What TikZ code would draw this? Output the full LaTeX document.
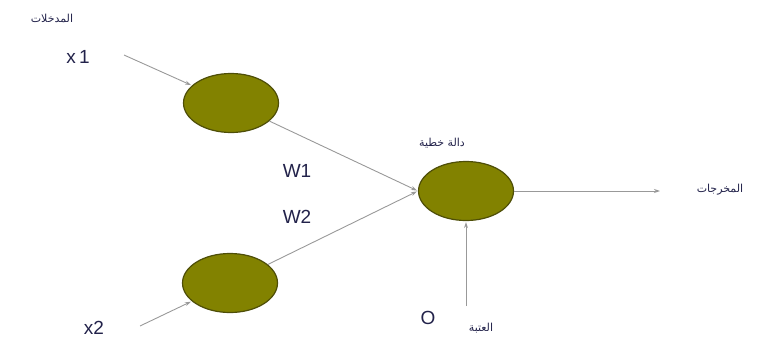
\documentclass[tikz,border=0pt]{standalone}
\usepackage{fontspec}
\setmainfont{Liberation Sans}
\newfontfamily\arabicfont[Script=Arabic]{DejaVu Sans}
\TeXXeTstate=1
\usetikzlibrary{shapes.geometric,arrows.meta}
\definecolor{olivefill}{HTML}{828200}
\definecolor{olivedraw}{HTML}{4E4E08}
\definecolor{labelblue}{HTML}{22224A}
\tikzset{
	neuron/.style = {ellipse, draw = olivedraw, line width = 1.2pt, fill = olivefill, minimum width = 95pt, minimum height = 59pt, inner sep = 0pt},
	link/.style = {draw = gray!80, line width = 0.9pt, -{Stealth[length = 6pt, width = 4pt]}},
	arlabel/.style = {text = labelblue, font = \arabicfont\fontsize{11}{13}\selectfont},
	lalabel/.style = {text = labelblue, font = \fontsize{19}{22}\selectfont}
}
\begin{document}
\begin{tikzpicture}[x=1pt,y=-1pt,shorten >=1pt]
	\useasboundingbox (0,0) rectangle (767,345);
	\node (N1) at (231, 103)	[neuron]	{};
	\node (N2) at (230, 283)	[neuron]	{};
	\node (N3) at (466, 191)	[neuron]	{};
	\coordinate (X1) at (124, 55);
	\coordinate (X2) at (140, 326);
	\coordinate (Y) at (661, 191);
	\coordinate (T) at (466, 306);
	\node (Lin) at (52, 18)	[arlabel]	{\beginR المدخلات\endR};
	\node (Lx1) at (78, 57)	[lalabel]	{x\,1};
	\node (Lx2) at (94, 328)	[lalabel]	{x2};
	\node (Lw1) at (297, 171)	[lalabel]	{W1};
	\node (Lw2) at (297, 217)	[lalabel]	{W2};
	\node (Lf) at (442, 143)	[arlabel]	{\beginR دالة خطية\endR};
	\node (Lout) at (720, 190)	[arlabel]	{\beginR المخرجات\endR};
	\node (Lt) at (428, 318)	[lalabel]	{O};
	\node (Lth) at (481, 328)	[arlabel]	{\beginR العتبة\endR};
	\draw[link] (X1) -- (N1);
	\draw[link] (X2) -- (N2);
	\draw[link] (N1) -- (N3.west);
	\draw[link] (N2) -- (N3.west);
	\draw[link] (N3.east) -- (Y);
	\draw[link] (T) -- (N3.south);
\end{tikzpicture}
\end{document}
